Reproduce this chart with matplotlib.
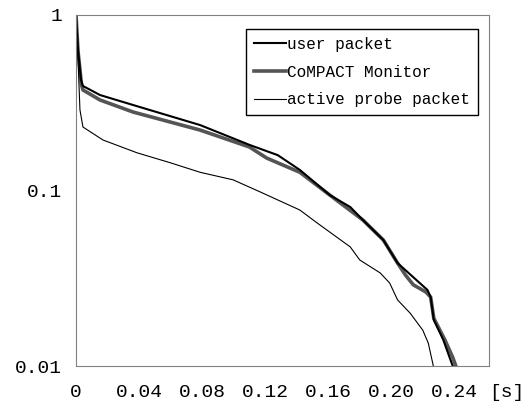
import matplotlib
matplotlib.use('Agg')
import matplotlib.pyplot as plt

plt.rcParams['font.family'] = ['Liberation Mono', 'DejaVu Sans Mono']

# delay [s] vs. complementary cumulative probability
user_x = [0, 0.0013, 0.0032, 0.0044, 0.0152, 0.0362, 0.0787, 0.110, 0.128, 0.142,
          0.161, 0.174, 0.182, 0.195, 0.204, 0.223, 0.225, 0.227, 0.233, 0.237, 0.239]
user_y = [1.0, 0.63, 0.426, 0.394, 0.350, 0.307, 0.236, 0.182, 0.159, 0.131,
          0.0942, 0.0805, 0.0679, 0.0522, 0.0386, 0.0271, 0.0247, 0.0183, 0.0141, 0.0112, 0.01]

compact_x = [0, 0.0013, 0.0035, 0.0044, 0.0152, 0.0362, 0.0787, 0.110, 0.121, 0.131, 0.142,
             0.161, 0.182, 0.195, 0.204, 0.209, 0.214, 0.222, 0.225, 0.227, 0.234, 0.239, 0.241]
compact_y = [1.0, 0.62, 0.40, 0.374, 0.328, 0.280, 0.221, 0.177, 0.153, 0.140, 0.127,
             0.0942, 0.0679, 0.0522, 0.0386, 0.033, 0.029, 0.0264, 0.0247, 0.0187, 0.0141, 0.0112, 0.01]

probe_x = [0, 0.0013, 0.0025, 0.0044, 0.0171, 0.0387, 0.0597, 0.0787, 0.0997, 0.117, 0.142,
           0.153, 0.174, 0.180, 0.193, 0.199, 0.204, 0.212, 0.220, 0.2235, 0.2267]
probe_y = [1.0, 0.554, 0.288, 0.230, 0.194, 0.164, 0.144, 0.127, 0.115, 0.098, 0.0774,
           0.0653, 0.0477, 0.0402, 0.0339, 0.0297, 0.0238, 0.020, 0.016, 0.0135, 0.01]

xticks = [0, 0.04, 0.08, 0.12, 0.16, 0.20, 0.24]
xticklabels = ['0', '0.04', '0.08', '0.12', '0.16', '0.20', '0.24']
yticks = [0.01, 0.1, 1]
yticklabels = ['0.01', '0.1', '1']

fig = plt.figure(figsize=(5.30, 4.03), dpi=100)
ax = fig.add_axes([0.1434, 0.0918, 0.7792, 0.871])

l2, = ax.plot(compact_x, compact_y, color='#555555', lw=2.6, label='CoMPACT Monitor')
l1, = ax.plot(user_x, user_y, color='black', lw=1.5, label='user packet')
l3, = ax.plot(probe_x, probe_y, color='black', lw=0.8, label='active probe packet')

ax.set_yscale('log')
ax.set_xlim(0, 0.262)
ax.set_ylim(0.01, 1)
ax.set_xticks(xticks)
ax.set_xticklabels(xticklabels)
ax.set_yticks(yticks)
ax.set_yticklabels(yticklabels)
ax.minorticks_off()
ax.tick_params(length=0, labelsize=14, pad=13)
ax.tick_params(axis='y', pad=10)
for s in ax.spines.values():
    s.set_color('#808080')

ax.annotate('[s]', xy=(1, 0), xycoords='axes fraction', xytext=(0, -13),
            textcoords='offset points', ha='left', va='top', fontsize=14)

leg = ax.legend(handles=[l1, l2, l3], loc='upper right', bbox_to_anchor=(0.993, 0.983),
                fontsize=11.5, fancybox=False, framealpha=1, edgecolor='black',
                handlelength=2.0, handletextpad=0.1, borderpad=0.5, labelspacing=0.8)
leg.get_frame().set_linewidth(1.0)

fig.savefig('out.png')
